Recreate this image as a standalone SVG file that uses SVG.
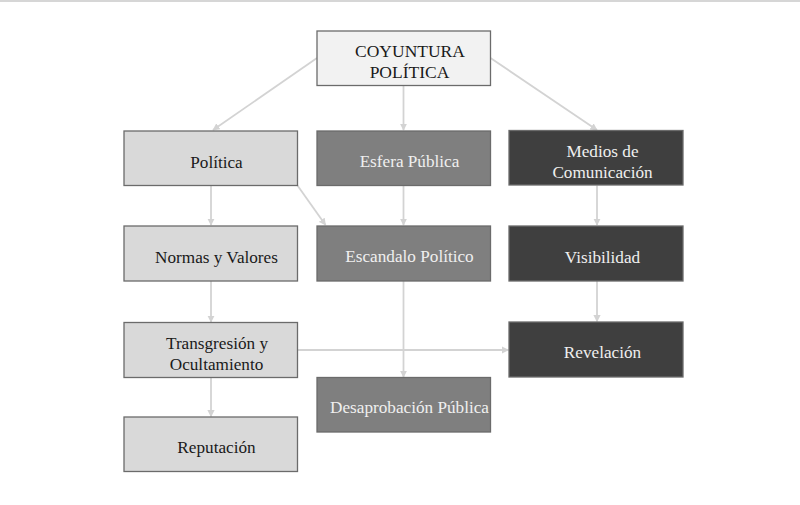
<svg xmlns="http://www.w3.org/2000/svg" width="800" height="505" viewBox="0 0 800 505">
<style>
.box{stroke:#6b6b6b;stroke-width:1.3}
.light{fill:#d9d9d9}
.top{fill:#f2f2f2}
.mid{fill:#7f7f7f}
.dark{fill:#3f3f3f}
text{font-family:"Liberation Serif","Times New Roman",serif;font-size:17.2px;text-anchor:middle}
.dk{fill:#1a1a1a}
.wt{fill:#efefef}
.conn line{stroke:#d3d3d3;stroke-width:1.8;fill:none}
</style>
<defs>
<marker id="arr" viewBox="0 0 10 10" refX="9" refY="5" markerWidth="4" markerHeight="4" orient="auto" markerUnits="strokeWidth">
<path d="M0,0 L10,5 L0,10 z" fill="#d3d3d3"/>
</marker>
</defs>
<rect x="0" y="0" width="800" height="505" fill="#ffffff"/>
<rect x="0" y="0" width="800" height="2" fill="#d6d6d6"/>
<g class="conn">
<line x1="317" y1="58" x2="213" y2="130" marker-end="url(#arr)"/>
<line x1="403.5" y1="85.5" x2="403.5" y2="130" marker-end="url(#arr)"/>
<line x1="490.5" y1="58" x2="597" y2="130" marker-end="url(#arr)"/>
<line x1="211" y1="185.5" x2="211" y2="225" marker-end="url(#arr)"/>
<line x1="297.5" y1="185.5" x2="325.5" y2="225" marker-end="url(#arr)"/>
<line x1="403.5" y1="185.5" x2="403.5" y2="225" marker-end="url(#arr)"/>
<line x1="597" y1="185.5" x2="597" y2="225" marker-end="url(#arr)"/>
<line x1="211" y1="281" x2="211" y2="322" marker-end="url(#arr)"/>
<line x1="403.5" y1="281" x2="403.5" y2="377" marker-end="url(#arr)"/>
<line x1="297.5" y1="350" x2="508.5" y2="350" marker-end="url(#arr)"/>
<line x1="597" y1="281" x2="597" y2="321.5" marker-end="url(#arr)"/>
<line x1="211" y1="377.5" x2="211" y2="416.5" marker-end="url(#arr)"/>
</g>
<g id="coyuntura"><rect class="box top" x="317" y="31" width="173.5" height="54.5"/>
<text class="dk" style="font-size:17.5px" x="410" y="56.5">COYUNTURA</text>
<text class="dk" style="font-size:17.5px" x="409.5" y="77.5">POLÍTICA</text></g>
<g id="politica"><rect class="box light" x="124" y="131" width="173.5" height="54.5"/>
<text class="dk" x="216.5" y="167.5">Política</text></g>
<g id="esfera"><rect class="box mid" x="317" y="131" width="173.5" height="54.5"/>
<text class="wt" x="409.5" y="167">Esfera Pública</text></g>
<g id="medios"><rect class="box dark" x="509" y="130.5" width="174" height="54.5"/>
<text class="wt" x="602.5" y="156.5">Medios de</text>
<text class="wt" x="602.5" y="177.5">Comunicación</text></g>
<g id="normas"><rect class="box light" x="124" y="226" width="173.5" height="55"/>
<text class="dk" x="216.5" y="262.5">Normas y Valores</text></g>
<g id="escandalo"><rect class="box mid" x="317" y="226" width="173.5" height="55"/>
<text class="wt" x="409.5" y="262">Escandalo Político</text></g>
<g id="visibilidad"><rect class="box dark" x="509" y="226" width="174" height="55"/>
<text class="wt" x="602.5" y="262.5">Visibilidad</text></g>
<g id="transgresion"><rect class="box light" x="124" y="322.5" width="173.5" height="55"/>
<text class="dk" x="217" y="348.5">Transgresión y</text>
<text class="dk" x="216.5" y="369.5">Ocultamiento</text></g>
<g id="revelacion"><rect class="box dark" x="509" y="322" width="174" height="55"/>
<text class="wt" x="602.5" y="358">Revelación</text></g>
<g id="desaprobacion"><rect class="box mid" x="317" y="377.5" width="173.5" height="54.5"/>
<text class="wt" x="409.5" y="413">Desaprobación Pública</text></g>
<g id="reputacion"><rect class="box light" x="124" y="417" width="173.5" height="54.5"/>
<text class="dk" x="216.5" y="453">Reputación</text></g>
</svg>
